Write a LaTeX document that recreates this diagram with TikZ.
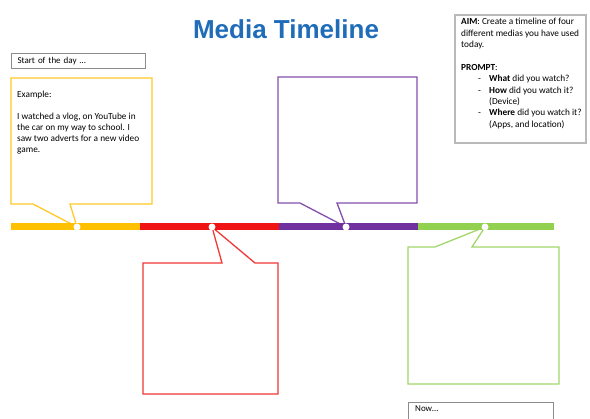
\documentclass[tikz,border=0pt]{standalone}
\usepackage{fontspec}
\setmainfont{Carlito}
\newfontfamily\headfont{Liberation Sans}
\usetikzlibrary{positioning,shapes}
\definecolor{mtblue}{RGB}{31,108,184}
\definecolor{mtyellow}{RGB}{255,192,0}
\definecolor{mtred}{RGB}{240,20,20}
\definecolor{mtpurple}{RGB}{112,48,160}
\definecolor{mtgreen}{RGB}{146,208,80}
\definecolor{mtgrey}{RGB}{140,140,140}
\newcommand{\dashitem}{\makebox[28pt][l]{\hspace*{17pt}-}}

\begin{document}
\begin{tikzpicture}[x=1pt,y=-1pt,
  bubble/.style={line width=1.3pt,line join=miter,fill=white},
  band/.style={line width=7pt},
  dot/.style={circle,fill=white,minimum size=7pt,inner sep=0pt},
  tag/.style={draw=mtgrey,line width=1pt,anchor=north west,minimum height=15pt,
    inner xsep=6pt,inner ysep=0pt,align=left,font=\fontsize{9}{11}\selectfont},
  txt/.style={anchor=north west,inner sep=0pt,align=left}]
\clip (0,0) rectangle (590,419);
\fill[white] (0,0) rectangle (590,419);
% points on the line
\coordinate (p1) at (77,227);
\coordinate (p2) at (212,227);
\coordinate (p3) at (346,227);
\coordinate (p4) at (485,227);
% speech boxes
\draw[bubble,draw=mtyellow!85] (11,78) -- (152,78) -- (152,204) -- (70,204) -- (p1)
  -- (33,204) -- (11,204) -- cycle;
\draw[bubble,draw=mtred!85] (143,263) -- (222,263) -- (p2) -- (255,263) -- (278,263)
  -- (278,394) -- (143,394) -- cycle;
\draw[bubble,draw=mtpurple!85] (278,77) -- (417,77) -- (417,203) -- (337,203) -- (p3)
  -- (300,203) -- (278,203) -- cycle;
\draw[bubble,draw=mtgreen!85] (408,247) -- (435,247) -- (p4) -- (472,247) -- (559,247)
  -- (559,384) -- (408,384) -- cycle;
% the line
\coordinate (t0) at (11,227);
\coordinate (t1) at (140,227);
\coordinate (t2) at (279,227);
\coordinate (t3) at (418,227);
\coordinate (t4) at (554,227);
\draw[band,mtyellow] (t0) -- (t1);
\draw[band,mtred] (t1) -- (t2);
\draw[band,mtpurple] (t2) -- (t3);
\draw[band,mtgreen] (t3) -- (t4);
\foreach \i in {1,...,4}
  \node[dot] (d\i) at (p\i) {};
% texts
\node[font=\headfont\bfseries\fontsize{26}{30}\selectfont,text=mtblue] (title) at (286,29) {Media Timeline};
\node[tag,text width=122pt] (start) at (11,53) {Start of the day \dots};
\node[tag,text width=133pt,minimum height=30pt,anchor=north west] (now) at (408,402) {};
\node[txt,font=\fontsize{9}{11}\selectfont] at (415,406) {Now\dots};
\node[txt,font=\fontsize{9.3}{11}\selectfont] (example) at (17,91) {Example:\\[11pt]
  I watched a vlog, on YouTube in\\
  the car on my way to school. I\\
  saw two adverts for a new video\\
  game.};
\draw[draw=gray!55,line width=1.5pt] (455,15) rectangle (586,143);
\node[txt,font=\fontsize{9.3}{11.4}\selectfont] (aim) at (461,18) {\textbf{AIM}: Create a timeline of four\\
  different medias you have used\\
  today.\\[11.4pt]
  \textbf{PROMPT}:\\
  \dashitem\textbf{What} did you watch?\\
  \dashitem\textbf{How} did you watch it?\\
  \hspace*{28pt}(Device)\\
  \dashitem\textbf{Where} did you watch it?\\
  \hspace*{28pt}(Apps, and location)};
\end{tikzpicture}
\end{document}
